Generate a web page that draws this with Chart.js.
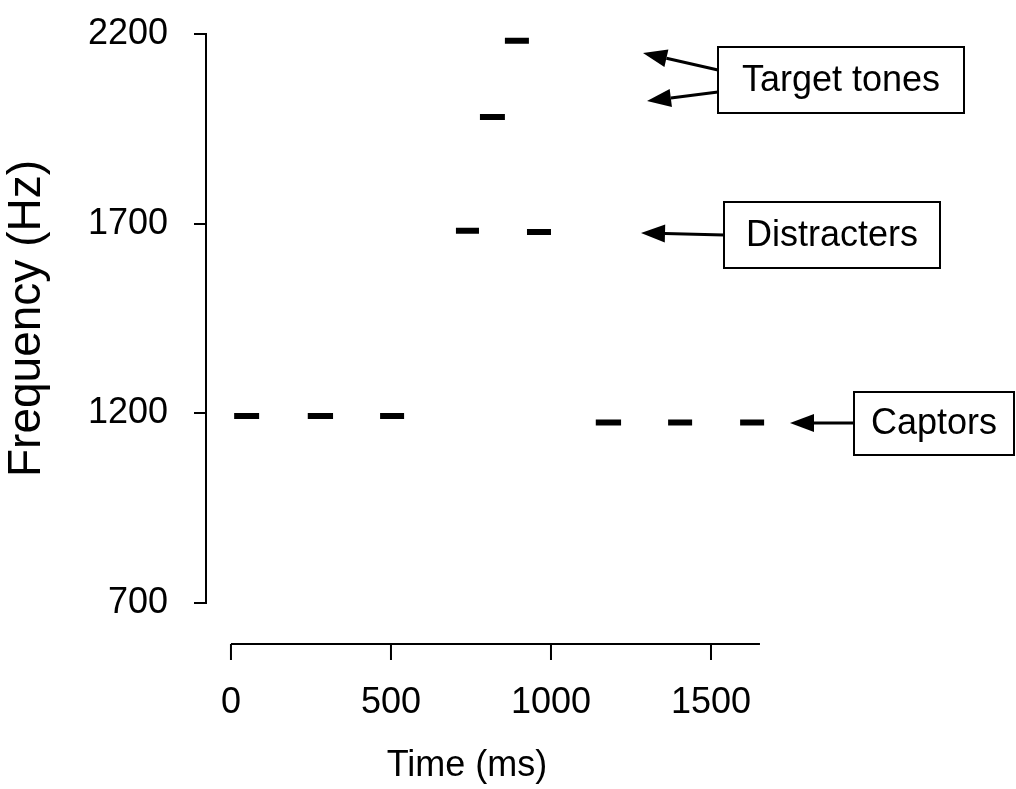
<!DOCTYPE html>
<html>
<head>
<meta charset="utf-8">
<title>Tone sequence</title>
<script src="https://cdn.jsdelivr.net/npm/chart.js@4.4.1/dist/chart.umd.min.js"></script>
<style>
    body { margin: 0; background: #fff; }
    #wrap { width: 1016px; height: 789px; }
</style>
</head>
<body>
<div id="wrap"><canvas id="toneChart" width="1016" height="789"></canvas></div>
<script>
// Tone onsets / offsets (ms) and frequencies (Hz)
const captorStart = [10, 240, 466, 1140, 1366, 1591];
const captorEnd = [88, 319, 541, 1219, 1441, 1666];
const captorFreq = [1193, 1193, 1193, 1176, 1176, 1176];

const distracterStart = [703, 925];
const distracterEnd = [775, 1000];
const distracterFreq = [1681, 1678];

const targetStart = [778, 856];
const targetEnd = [856, 931];
const targetFreq = [1981, 2182];

const xTicks = [0, 500, 1000, 1500];
const yTicks = [700, 1200, 1700, 2200];
const xAxisEnd = 1653;

const FONT = "'Liberation Sans', Arial, Helvetica, sans-serif";

// turn start/end/freq lists into line points, with a null between tones
function toSegments(starts, ends, freqs) {
    const pts = [];
    starts.forEach((s, i) => {
        pts.push({ x: s, y: freqs[i] });
        pts.push({ x: ends[i], y: freqs[i] });
        pts.push({ x: ends[i], y: null });
    });
    return pts;
}

function toneSet(label, pts) {
    return {
        label,
        data: pts,
        borderColor: '#000',
        borderWidth: 6,
        borderCapStyle: 'butt',
        pointRadius: 0,
        spanGaps: false,
        clip: false
    };
}

// draws the detached time axis, its title and the labelled arrows
const extras = {
    id: 'extras',
    afterDraw(chart) {
        const ctx = chart.ctx;
        const xs = chart.scales.x;
        const axisY = chart.chartArea.bottom + 41;
        ctx.save();
        ctx.strokeStyle = '#000';
        ctx.fillStyle = '#000';
        ctx.lineWidth = 2;

        ctx.beginPath();
        ctx.moveTo(xs.getPixelForValue(0), axisY);
        ctx.lineTo(xs.getPixelForValue(xAxisEnd), axisY);
        xTicks.forEach(v => {
            const px = xs.getPixelForValue(v);
            ctx.moveTo(px, axisY);
            ctx.lineTo(px, axisY + 16);
        });
        ctx.stroke();

        ctx.font = '36px ' + FONT;
        ctx.textAlign = 'center';
        ctx.textBaseline = 'middle';
        ctx.fillText('Time (ms)', 467, 766);

        const boxes = [
            { text: 'Target tones', x: 718, y: 47, w: 246, h: 66 },
            { text: 'Distracters', x: 724, y: 202, w: 216, h: 66 },
            { text: 'Captors', x: 854, y: 392, w: 160, h: 63 }
        ];
        boxes.forEach(b => {
            ctx.strokeRect(b.x, b.y, b.w, b.h);
            ctx.fillText(b.text, b.x + b.w / 2, b.y + b.h / 2 + 1);
        });

        const arrows = [
            [718, 70, 643, 53],
            [718, 92, 647, 101],
            [724, 235, 641, 233],
            [854, 423, 790, 423]
        ];
        ctx.lineWidth = 3;
        arrows.forEach(([x1, y1, x2, y2]) => {
            const ang = Math.atan2(y2 - y1, x2 - x1);
            const len = 24, half = 9;
            const bx = x2 - len * Math.cos(ang);
            const by = y2 - len * Math.sin(ang);
            ctx.beginPath();
            ctx.moveTo(x1, y1);
            ctx.lineTo(bx, by);
            ctx.stroke();
            ctx.beginPath();
            ctx.moveTo(x2, y2);
            ctx.lineTo(bx + half * Math.sin(ang), by - half * Math.cos(ang));
            ctx.lineTo(bx - half * Math.sin(ang), by + half * Math.cos(ang));
            ctx.closePath();
            ctx.fill();
        });
        ctx.restore();
    }
};

const ctx = document.getElementById('toneChart').getContext('2d');
new Chart(ctx, {
    type: 'line',
    data: {
        datasets: [
            toneSet('Captors', toSegments(captorStart, captorEnd, captorFreq)),
            toneSet('Distracters', toSegments(distracterStart, distracterEnd, distracterFreq)),
            toneSet('Target tones', toSegments(targetStart, targetEnd, targetFreq))
        ]
    },
    options: {
        responsive: false,
        animation: false,
        layout: { padding: { top: 34, right: 241, bottom: 0, left: 0 } },
        plugins: {
            legend: { display: false },
            tooltip: { enabled: false }
        },
        scales: {
            x: {
                type: 'linear',
                min: -78,
                max: 1700,
                border: { display: false },
                grid: { display: false, drawTicks: false },
                afterBuildTicks: scale => { scale.ticks = xTicks.map(v => ({ value: v })); },
                afterFit: scale => {
                    scale.height = 186;
                    scale.paddingLeft = 0;
                    scale.paddingRight = 0;
                },
                ticks: {
                    color: '#000',
                    font: { family: FONT, size: 36 },
                    padding: 78,
                    maxRotation: 0,
                    callback: v => String(v)
                }
            },
            y: {
                type: 'linear',
                min: 700,
                max: 2200,
                border: { display: true, color: '#000', width: 2 },
                grid: {
                    drawOnChartArea: false,
                    drawTicks: true,
                    tickLength: 12,
                    color: '#000',
                    lineWidth: 2
                },
                afterBuildTicks: scale => { scale.ticks = yTicks.map(v => ({ value: v })); },
                afterFit: scale => {
                    scale.width = 206;
                    scale.paddingTop = 0;
                    scale.paddingBottom = 0;
                },
                ticks: {
                    color: '#000',
                    font: { family: FONT, size: 36 },
                    padding: 26,
                    callback: v => String(v)
                },
                title: {
                    display: true,
                    text: 'Frequency (Hz)',
                    color: '#000',
                    font: { family: FONT, size: 46 },
                    padding: 0
                }
            }
        }
    },
    plugins: [extras]
});
</script>
</body>
</html>
